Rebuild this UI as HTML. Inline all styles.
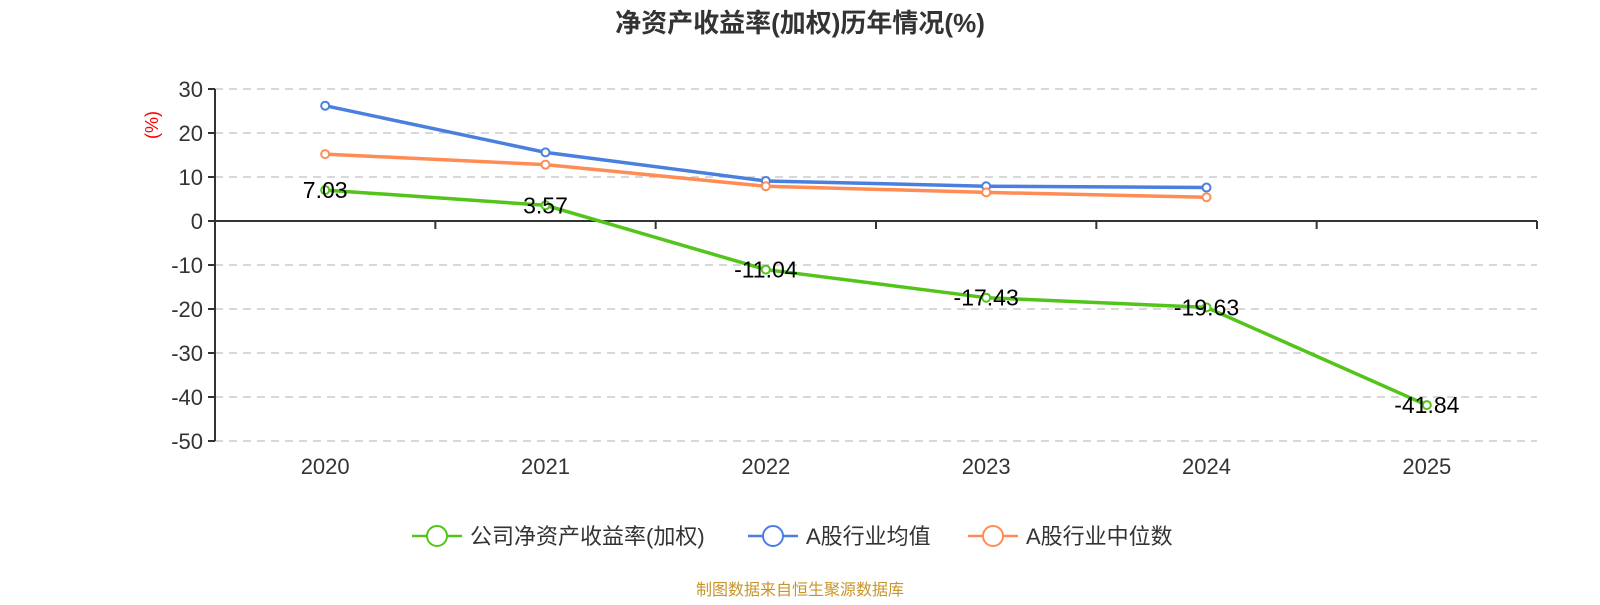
<!DOCTYPE html>
<html><head><meta charset="utf-8"><style>
body{margin:0;background:#fff;width:1600px;height:600px;overflow:hidden;font-family:"Liberation Sans","Noto Sans CJK SC",sans-serif;}
</style></head><body>
<svg id="chart" width="1600" height="600" xmlns="http://www.w3.org/2000/svg">
<text x="800" y="32" text-anchor="middle" font-size="26" font-weight="bold" fill="#333">净资产收益率(加权)历年情况(%)</text>
<text transform="translate(158,125) rotate(-90)" text-anchor="middle" font-size="18" fill="#ff0000">(%)</text>
<g id="grid"></g><g id="axes"></g><g id="series"></g><g id="legend"></g>
<text x="800" y="595" text-anchor="middle" font-size="16" fill="#c8952a">制图数据来自恒生聚源数据库</text>
</svg>
<script>
const categories=["2020","2021","2022","2023","2024","2025"];
const companyROE=[7.03,3.57,-11.04,-17.43,-19.63,-41.84];
const industryAvg=[26.2,15.6,9.1,7.9,7.6,null];
const industryMedian=[15.2,12.8,7.9,6.5,5.4,null];
const yTicks=[30,20,10,0,-10,-20,-30,-40,-50];
const seriesNames=["公司净资产收益率(加权)","A股行业均值","A股行业中位数"];
const NS="http://www.w3.org/2000/svg";
const X0=215,X1=1537,YT=89,YB=441,YMAX=30,YMIN=-50;
const bw=(X1-X0)/categories.length;
function xs(i){return X0+bw*(i+0.5);}
function ys(v){return YT+(YMAX-v)/(YMAX-YMIN)*(YB-YT);}
function mk(t,a,p){const e=document.createElementNS(NS,t);for(const k in a)e.setAttribute(k,a[k]);p.appendChild(e);return e;}
const grid=document.getElementById('grid'),axes=document.getElementById('axes'),ser=document.getElementById('series'),leg=document.getElementById('legend');
yTicks.forEach(v=>{
  if(v!==0){const l=mk('line',{x1:X0,x2:X1,y1:ys(v),y2:ys(v),stroke:'#ccc','stroke-dasharray':'8,6','stroke-width':1.5},grid);
  
  }
  mk('line',{x1:X0-7,x2:X0,y1:ys(v),y2:ys(v),stroke:'#333','stroke-width':2},axes);
  const t=mk('text',{x:X0-12,y:ys(v)+8,'text-anchor':'end','font-size':22,fill:'#333'},axes);t.textContent=v;
  
  
});
mk('line',{x1:X0,x2:X0,y1:YT,y2:YB,stroke:'#333','stroke-width':2},axes);
mk('line',{x1:X0,x2:X1,y1:ys(0),y2:ys(0),stroke:'#333','stroke-width':2},axes);
for(let i=0;i<=categories.length;i++)mk('line',{x1:X0+bw*i,x2:X0+bw*i,y1:ys(0),y2:ys(0)+8,stroke:'#333','stroke-width':2},axes);
categories.forEach((c,i)=>{const t=mk('text',{x:xs(i),y:474,'text-anchor':'middle','font-size':22,fill:'#333'},axes);t.textContent=c;
  
  });
function drawSeries(data,color,name,labels){
  const pts=[];data.forEach((v,i)=>{if(v!==null)pts.push([xs(i),ys(v),v]);});
  const p=mk('polyline',{points:pts.map(q=>q[0]+','+q[1]).join(' '),fill:'none',stroke:color,'stroke-width':3.5},ser);
  
  
  pts.forEach(q=>{const c=mk('circle',{cx:q[0],cy:q[1],r:4,fill:'#fff',stroke:color,'stroke-width':2},ser);
    
    
    if(labels){const t=mk('text',{x:q[0],y:q[1]+8,'text-anchor':'middle','font-size':23,fill:'#000'},ser);t.textContent=q[2].toFixed(2);
      
      }});
}
drawSeries(industryAvg,'#4a7fe0','industry-avg',false);
drawSeries(industryMedian,'#ff8c55','industry-median',false);
drawSeries(companyROE,'#52c41a','company-roe',true);
const lc=['#52c41a','#4a7fe0','#ff8c55'],lx=[412,748,968];
seriesNames.forEach((n,i)=>{const g=mk('g',{},leg);
  
  
  mk('line',{x1:lx[i],x2:lx[i]+50,y1:536,y2:536,stroke:lc[i],'stroke-width':2.5},g);
  mk('circle',{cx:lx[i]+25,cy:536,r:10,fill:'#fff',stroke:lc[i],'stroke-width':2},g);
  const t=mk('text',{x:lx[i]+58,y:544,'font-size':22,fill:'#333'},g);t.textContent=n;});
</script>
</body></html>
